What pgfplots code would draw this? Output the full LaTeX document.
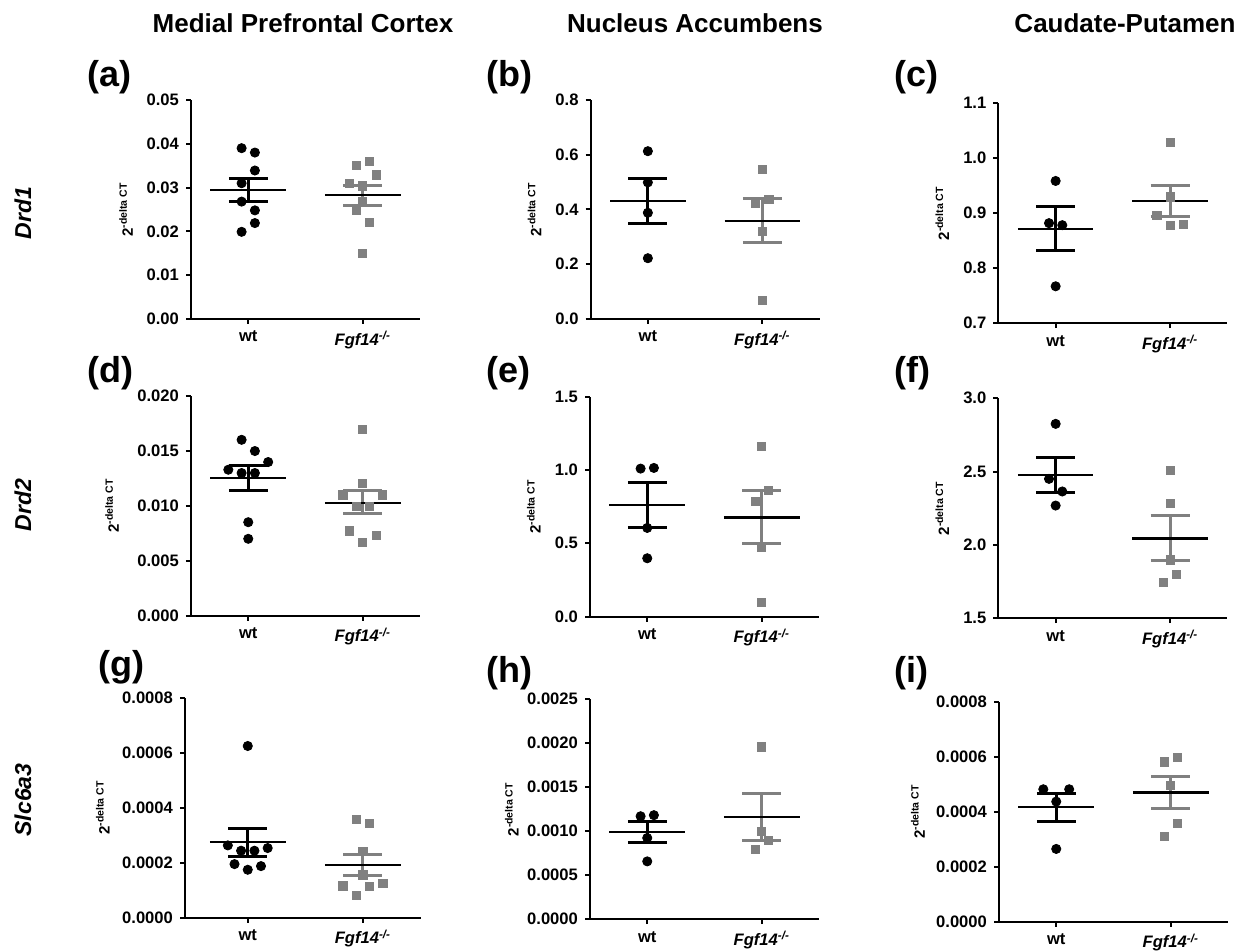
\documentclass[border=0pt]{standalone}
\usepackage{pgfplots}
\pgfplotsset{compat=1.18}
\usepackage{fontspec}
\setmainfont{Liberation Sans}
\definecolor{ko}{RGB}{128,128,128}

\pgfplotsset{
 panel/.style={
  scale only axis, width=114.5pt, height=110pt, anchor=south west,
  axis x line*=bottom, axis y line*=left,
  axis line style={-, line width=1pt, black},
  xmin=-0.5, xmax=1.5, xtick={0,1},
  xticklabels={wt, {\textit{Fgf14\textsuperscript{-/-}}}},
  tick align=outside, major tick length=2.5pt,
  every tick/.style={black, line width=1pt},
  tick label style={font=\bfseries\fontsize{8.3}{9}\selectfont},
  scaled y ticks=false,
  /pgf/number format/assume math mode=true,
  yticklabel style={/pgf/number format/.cd, fixed, fixed zerofill},
  ylabel={2\textsuperscript{-delta CT}},
  ylabel style={font=\bfseries\fontsize{7.5}{8}\selectfont, anchor=center},
  clip=false,
 },
 ylabpos/.style={ylabel style={at={(axis description cs:#1,0.5)}}},
 prec/.style={yticklabel style={/pgf/number format/precision=#1}},
}

\newcommand{\msem}[9]{%
 \addplot[#9, line width=1.5pt] coordinates {(#1,#7) (#1,#8)};
 \addplot[#9, line width=1.5pt] coordinates {(#2,#7) (#3,#7)};
 \addplot[#9, line width=1.5pt] coordinates {(#2,#8) (#3,#8)};
 \addplot[black, line width=1.1pt] coordinates {(#4,#6) (#5,#6)};
}
\newcommand{\wtpts}[1]{\addplot[only marks, mark=*, mark size=2.3pt, black] coordinates {#1};}
\newcommand{\kopts}[1]{\addplot[only marks, mark=square*, mark size=2.05pt, ko, mark options={draw=ko, fill=ko}] coordinates {#1};}

\begin{document}
\begin{tikzpicture}
\useasboundingbox (0,0) rectangle (619pt,476pt);

% titles
\node[font=\bfseries\fontsize{13}{15}\selectfont, anchor=base] at (151.5pt,459.5pt) {Medial Prefrontal Cortex};
\node[font=\bfseries\fontsize{13}{15}\selectfont, anchor=base] at (347.5pt,459.5pt) {Nucleus Accumbens};
\node[font=\bfseries\fontsize{13}{15}\selectfont, anchor=base] at (562.5pt,459.5pt) {Caudate-Putamen};

% row labels
\node[rotate=90, font=\bfseries\itshape\fontsize{11.5}{13}\selectfont] at (11.5pt,369.5pt) {Drd1};
\node[rotate=90, font=\bfseries\itshape\fontsize{11.5}{13}\selectfont] at (11.5pt,223.5pt) {Drd2};
\node[rotate=90, font=\bfseries\itshape\fontsize{11.5}{13}\selectfont] at (11.5pt,76pt) {Slc6a3};

% panel labels
\tikzset{plab/.style={font=\bfseries\fontsize{18}{20}\selectfont, anchor=north west, inner sep=0pt}}
\node[plab] at (43.5pt,446pt) {(a)};
\node[plab] at (243pt,446pt) {(b)};
\node[plab] at (447pt,446pt) {(c)};
\node[plab] at (43.5pt,298pt) {(d)};
\node[plab] at (243pt,298pt) {(e)};
\node[plab] at (447pt,298pt) {(f)};
\node[plab] at (49pt,151pt) {(g)};
\node[plab] at (243pt,148pt) {(h)};
\node[plab] at (447pt,148pt) {(i)};

% (a)
\begin{axis}[panel, at={(95.5pt,316.5pt)}, height=109.5pt, ymin=0, ymax=0.05,
  ytick={0,0.01,0.02,0.03,0.04,0.05}, prec=2, ylabpos=-0.284]
\wtpts{(-0.058,0.0390) (0.058,0.0380) (0.058,0.0339) (-0.058,0.0310) (-0.058,0.0268) (0.058,0.0248) (0.058,0.0219) (-0.058,0.0199)}
\kopts{(0.942,0.0350) (1.058,0.0360) (1.116,0.0329) (0.884,0.0310) (1,0.0304) (1,0.0268) (0.942,0.0249) (1.058,0.0221) (1,0.0149)}
\msem{0}{-0.17}{0.17}{-0.33}{0.33}{0.0295}{0.0268}{0.0321}{black}
\msem{1}{0.83}{1.17}{0.67}{1.33}{0.0283}{0.0260}{0.0305}{ko}
\end{axis}

% (b)
\begin{axis}[panel, at={(295.3pt,316.5pt)}, height=109.5pt, ymin=0, ymax=0.8,
  ytick={0,0.2,0.4,0.6,0.8}, prec=1, ylabpos=-0.245]
\wtpts{(0,0.613) (0,0.499) (0,0.388) (0,0.222)}
\kopts{(1,0.545) (0.942,0.422) (1.058,0.436) (1,0.320) (1,0.068)}
\msem{0}{-0.17}{0.17}{-0.33}{0.33}{0.4315}{0.349}{0.515}{black}
\msem{1}{0.83}{1.17}{0.67}{1.33}{0.3576}{0.279}{0.441}{ko}
\end{axis}

% (c)
\begin{axis}[panel, at={(499.2pt,314.4pt)}, ymin=0.7, ymax=1.1,
  ytick={0.7,0.8,0.9,1.0,1.1}, prec=1, ylabpos=-0.245]
\wtpts{(0,0.9586) (-0.058,0.8819) (0.058,0.8782) (0,0.7671)}
\kopts{(1,1.0287) (1,0.9296) (0.884,0.8964) (1,0.8776) (1.116,0.8789)}
\msem{0}{-0.17}{0.17}{-0.33}{0.33}{0.8716}{0.8317}{0.9115}{black}
\msem{1}{0.83}{1.17}{0.67}{1.33}{0.9218}{0.894}{0.9495}{ko}
\end{axis}

% (d)
\begin{axis}[panel, at={(95.5pt,168.2pt)}, ymin=0, ymax=0.02,
  ytick={0,0.005,0.01,0.015,0.02}, prec=3, ylabpos=-0.345]
\wtpts{(-0.058,0.01598) (0.058,0.01496) (0.174,0.01396) (-0.174,0.01326) (-0.058,0.01296) (0.058,0.01296) (0,0.00849) (0,0.00698)}
\kopts{(1,0.01695) (1,0.01199) (0.826,0.01097) (1.174,0.01097) (0.942,0.00994) (1.058,0.00994) (0.884,0.0077) (1.116,0.00731) (1,0.00662)}
\msem{0}{-0.17}{0.17}{-0.33}{0.33}{0.01248}{0.01139}{0.01360}{black}
\msem{1}{0.83}{1.17}{0.67}{1.33}{0.01027}{0.00924}{0.01133}{ko}
\end{axis}

% (e)
\begin{axis}[panel, at={(295pt,167.7pt)}, ymin=0, ymax=1.5,
  ytick={0,0.5,1.0,1.5}, prec=1, ylabpos=-0.245]
\wtpts{(-0.058,1.009) (0.058,1.0136) (0,0.6045) (0,0.3977)}
\kopts{(1,1.159) (1.058,0.861) (0.942,0.784) (1,0.470) (1,0.0977)}
\msem{0}{-0.17}{0.17}{-0.33}{0.33}{0.759}{0.6045}{0.911}{black}
\msem{1}{0.83}{1.17}{0.67}{1.33}{0.675}{0.4977}{0.859}{ko}
\end{axis}

% (f)
\begin{axis}[panel, at={(499.2pt,166.9pt)}, ymin=1.5, ymax=3.0,
  ytick={1.5,2.0,2.5,3.0}, prec=1, ylabpos=-0.245]
\wtpts{(0,2.825) (-0.058,2.45) (0.058,2.364) (0,2.268)}
\kopts{(1,2.507) (1,2.282) (1,1.898) (1.058,1.80) (0.942,1.743)}
\msem{0}{-0.17}{0.17}{-0.33}{0.33}{2.477}{2.357}{2.598}{black}
\msem{1}{0.83}{1.17}{0.67}{1.33}{2.043}{1.895}{2.198}{ko}
\end{axis}

% (g)
\begin{axis}[panel, at={(92.5pt,17.2pt)}, width=117.75pt, xmin=-0.545, ymin=0, ymax=0.0008,
  ytick={0,0.0002,0.0004,0.0006,0.0008}, prec=4, ylabpos=-0.349]
\wtpts{(0,0.000624) (-0.173,0.0002626) (-0.058,0.0002432) (0.058,0.0002432) (0.173,0.0002529) (-0.115,0.0001945) (0,0.0001739) (0.115,0.0001872)}
\kopts{(0.942,0.0003562) (1.058,0.0003416) (1,0.0002407) (1,0.0001556) (1.173,0.0001252) (0.827,0.0001155) (1.058,0.0001131) (0.942,0.0000802)}
\msem{0}{-0.17}{0.17}{-0.33}{0.33}{0.0002748}{0.0002213}{0.0003246}{black}
\msem{1}{0.83}{1.17}{0.67}{1.33}{0.0001921}{0.0001532}{0.0002298}{ko}
\end{axis}

% (h)
\begin{axis}[panel, at={(295pt,16.4pt)}, ymin=0, ymax=0.0025,
  ytick={0,0.0005,0.001,0.0015,0.002,0.0025}, prec=4, ylabpos=-0.341]
\wtpts{(-0.058,0.00117) (0.058,0.001182) (0,0.000923) (0,0.000657)}
\kopts{(1,0.001957) (1,0.000999) (1.058,0.000893) (0.942,0.00079)}
\msem{0}{-0.17}{0.17}{-0.33}{0.33}{0.000988}{0.000866}{0.001109}{black}
\msem{1}{0.83}{1.17}{0.67}{1.33}{0.001163}{0.000893}{0.001429}{ko}
\end{axis}

% (i)
\begin{axis}[panel, at={(499.5pt,15.2pt)}, ymin=0, ymax=0.0008,
  ytick={0,0.0002,0.0004,0.0006,0.0008}, prec=4, ylabpos=-0.354]
\wtpts{(-0.113,0.0004812) (0.113,0.0004812) (0,0.0004364) (0,0.0002642)}
\kopts{(0.942,0.0005806) (1.058,0.0005964) (1,0.0004945) (1.058,0.0003576) (0.942,0.0003103)}
\msem{0}{-0.17}{0.17}{-0.33}{0.33}{0.000417}{0.0003636}{0.0004667}{black}
\msem{1}{0.83}{1.17}{0.67}{1.33}{0.0004691}{0.0004097}{0.0005261}{ko}
\end{axis}
\end{tikzpicture}
\end{document}
